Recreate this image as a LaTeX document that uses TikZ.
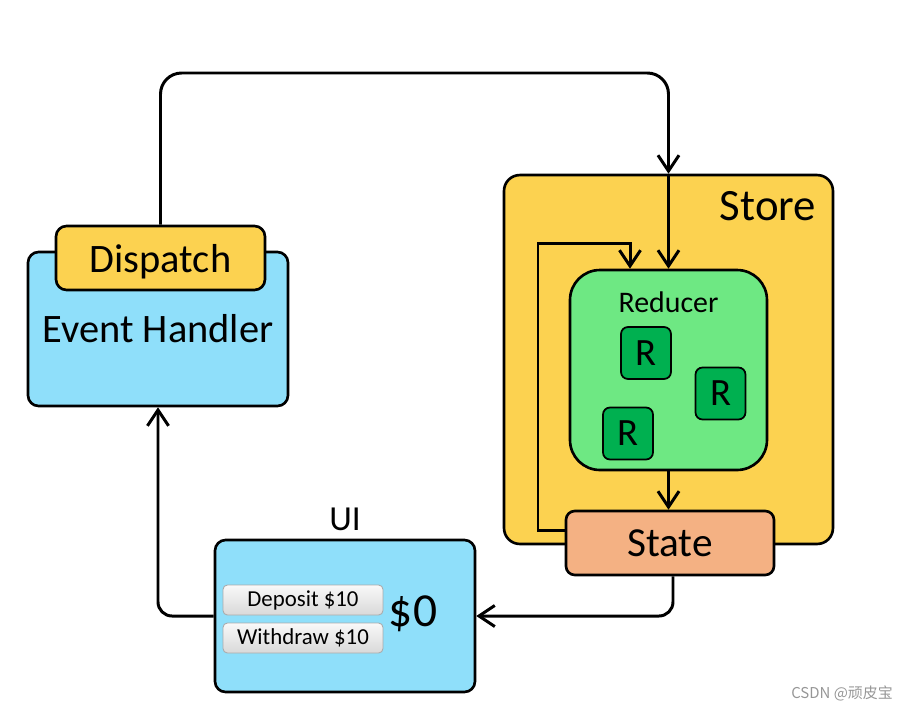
\documentclass[tikz,border=0pt]{standalone}
\usepackage{fontspec}
\setmainfont{Carlito}
\newfontfamily\cjk{Noto Sans CJK SC}
\usetikzlibrary{arrows.meta}
\definecolor{Celeste}{RGB}{143, 223, 250}
\definecolor{Amarillo}{RGB}{252, 210, 80}
\definecolor{VerdeClaro}{RGB}{110, 232, 131}
\definecolor{VerdeOscuro}{RGB}{0, 176, 80}
\definecolor{Salmon}{RGB}{244, 177, 131}
\definecolor{Gris}{RGB}{150, 150, 150}
\tikzset{
  caja/.style={draw=black, line width=1.5pt, rounded corners=6pt, inner sep=0pt, align=center},
  flecha/.style={line width=1.7pt, -{Straight Barb[length=9pt,width=12pt]}},
  boton/.style={draw=Gris!80, line width=0.5pt, rounded corners=2.5pt, top color=gray!5, bottom color=gray!30,
    minimum width=3.2cm, minimum height=0.6cm, inner sep=0pt, font=\fontsize{13}{13}\selectfont}
}

\begin{document}
\begin{tikzpicture}[x=0.02cm, y=-0.02cm]
            \useasboundingbox (0,0) rectangle (907,711);
            %Store, Reducer y State
            \node[caja, fill=Amarillo, rounded corners=9pt, minimum width=6.58cm, minimum height=7.38cm] (C) at (668.5,359.5) {};
            \node[font=\fontsize{25.5}{25.5}\selectfont] (M) at (768,206) {Store};
            \node[caja, fill=VerdeClaro, rounded corners=17pt, minimum width=3.94cm, minimum height=4cm] (D) at (668.5,370) {};
            \node[font=\fontsize{17}{17}\selectfont] (O) at (668.5,302) {Reducer};
            \node[caja, fill=VerdeOscuro, line width=1pt, rounded corners=4pt, minimum width=1cm, minimum height=1.04cm, font=\fontsize{22}{22}\selectfont] (E) at (646,353) {R};
            \node[caja, fill=VerdeOscuro, line width=1pt, rounded corners=4pt, minimum width=1cm, minimum height=1.04cm, font=\fontsize{22}{22}\selectfont] (F) at (720.5,393.5) {R};
            \node[caja, fill=VerdeOscuro, line width=1pt, rounded corners=4pt, minimum width=1cm, minimum height=1.04cm, font=\fontsize{22}{22}\selectfont] (G) at (628,433.5) {R};
            \node[caja, fill=Salmon, rounded corners=5pt, minimum width=4.16cm, minimum height=1.28cm, font=\fontsize{23.5}{23.5}\selectfont] (H) at (670,543) {State};
            %Event Handler y Dispatch
            \node[caja, fill=Celeste, minimum width=5.2cm, minimum height=3.08cm, font=\fontsize{23}{23}\selectfont] (A) at (158,329) {Event Handler};
            \node[caja, fill=Amarillo, minimum width=4.18cm, minimum height=1.28cm, text depth=0pt, font=\fontsize{23}{23}\selectfont] (B) at (160.5,258) {Dispatch};
            %UI
            \node[caja, fill=Celeste, minimum width=5.2cm, minimum height=3.04cm] (I) at (345,616) {};
            \node[font=\fontsize{20}{20}\selectfont] (N) at (345,519) {UI};
            \node[boton] (J) at (303,600) {Deposit \$10};
            \node[boton] (K) at (303,638) {Withdraw \$10};
            \node[font=\fontsize{27}{27}\selectfont] (L) at (413,614) {\$0};
            \node[font=\cjk\fontsize{8.5}{8.5}\selectfont, text=Gris] (P) at (842,693) {CSDN @顽皮宝};
            %Flechas
            \coordinate (T) at (668.5,73);
            \draw[flecha, rounded corners=12pt] (B.north) |- (T) -- (C.north);
            \draw[flecha] (C.north) -- (D.north);
            \draw[flecha] (D.south) -- (D.south |- H.north);
            \draw[flecha] ([yshift=0.26cm]H.west) -| (538,243) -| ([xshift=-0.77cm]D.north);
            \draw[flecha, rounded corners=8pt] ([xshift=0.06cm]H.south) |- (I.east);
            \draw[flecha, rounded corners=8pt] (I.west) -| (A.south);
\end{tikzpicture}
\end{document}
